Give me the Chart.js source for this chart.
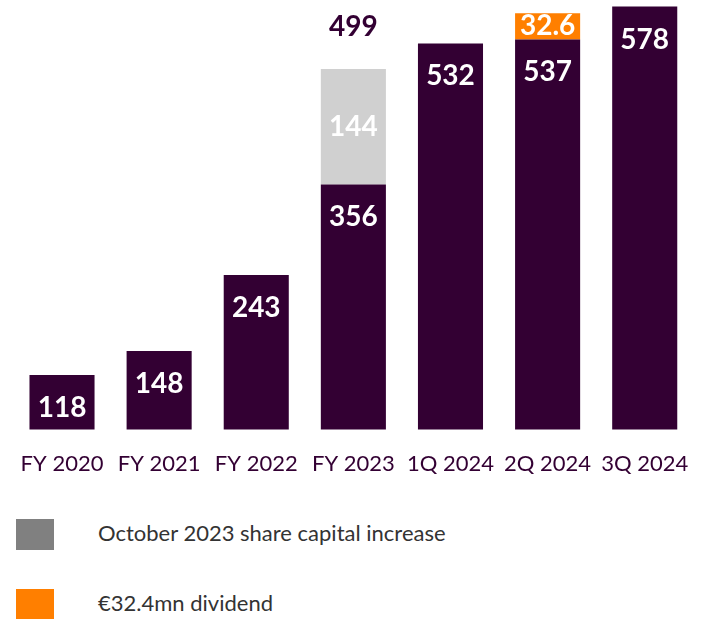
<!DOCTYPE html>
<html>
<head>
<meta charset="utf-8">
<script src="https://cdn.jsdelivr.net/npm/chart.js@4/dist/chart.umd.min.js"></script>
<style>
  body { margin: 0; background: #fff; width: 709px; height: 619px; position: relative; overflow: hidden; }
  #wrap { position: absolute; left: 0; top: 0; width: 709px; height: 498px; }
  .leg { position: absolute; left: 16px; width: 38px; height: 31px; }
  .legtxt { position: absolute; left: 98px; font: 22px Lato, sans-serif; color: #333; line-height: 31px; }
</style>
</head>
<body>
<div id="wrap"><canvas id="chart"></canvas></div>
<div class="leg" style="top:519px;background:#808080"></div>
<div class="legtxt" style="top:517px">October 2023 share capital increase</div>
<div class="leg" style="top:589px;background:#ff7f00"></div>
<div class="legtxt" style="top:587px">€32.4mn dividend</div>
<script>
const labels = ['FY 2020', 'FY 2021', 'FY 2022', 'FY 2023', '1Q 2024', '2Q 2024', '3Q 2024'];
const baseValues = [118, 148, 243, 356, 532, 537, 578];
const capitalIncrease = [null, null, null, 144, null, null, null];
const dividend = [null, null, null, null, null, 32.6, null];
const totalLabels = ['', '', '', '499', '', '', ''];

const purple = '#330033';

// draws the value labels on the bars
const valueLabels = {
    id: 'valueLabels',
    afterDatasetsDraw(chart) {
        const ctx = chart.ctx;
        ctx.save();
        ctx.textAlign = 'center';
        ctx.textBaseline = 'middle';
        ctx.font = 'bold 28px Lato, sans-serif';
        chart.data.datasets.forEach((ds, i) => {
            const meta = chart.getDatasetMeta(i);
            meta.data.forEach((bar, j) => {
                const v = ds.data[j];
                if (v == null) return;
                ctx.fillStyle = '#fff';
                let y;
                if (i === 0) y = bar.y + 33;
                else y = (bar.y + bar.base) / 2;
                ctx.fillText(String(v), bar.x, y);
            });
        });
        const meta0 = chart.getDatasetMeta(0);
        totalLabels.forEach((t, j) => {
            if (!t) return;
            ctx.fillStyle = purple;
            ctx.fillText(t, meta0.data[j].x, 27);
        });
        ctx.restore();
    }
};

new Chart(document.getElementById('chart'), {
    type: 'bar',
    data: {
        labels: labels,
        datasets: [
            { label: 'Base', data: baseValues, backgroundColor: purple },
            { label: 'October 2023 share capital increase', data: capitalIncrease, backgroundColor: '#d0d0d0' },
            { label: '€32.4mn dividend', data: dividend, backgroundColor: '#ff7f00' }
        ]
    },
    options: {
        responsive: true,
        maintainAspectRatio: false,
        animation: false,
        layout: { padding: { left: 8, right: 2, top: 1, bottom: 0 } },
        plugins: { legend: { display: false }, tooltip: { enabled: false } },
        datasets: { bar: { barPercentage: 0.67, categoryPercentage: 1 } },
        scales: {
            x: {
                stacked: true,
                grid: { display: false, drawTicks: false },
                border: { display: false },
                ticks: { color: purple, padding: 21, font: { family: 'Lato', size: 22 } }
            },
            y: {
                stacked: true,
                display: false,
                min: 50,
                max: 585
            }
        }
    },
    plugins: [valueLabels]
});
</script>
</body>
</html>
